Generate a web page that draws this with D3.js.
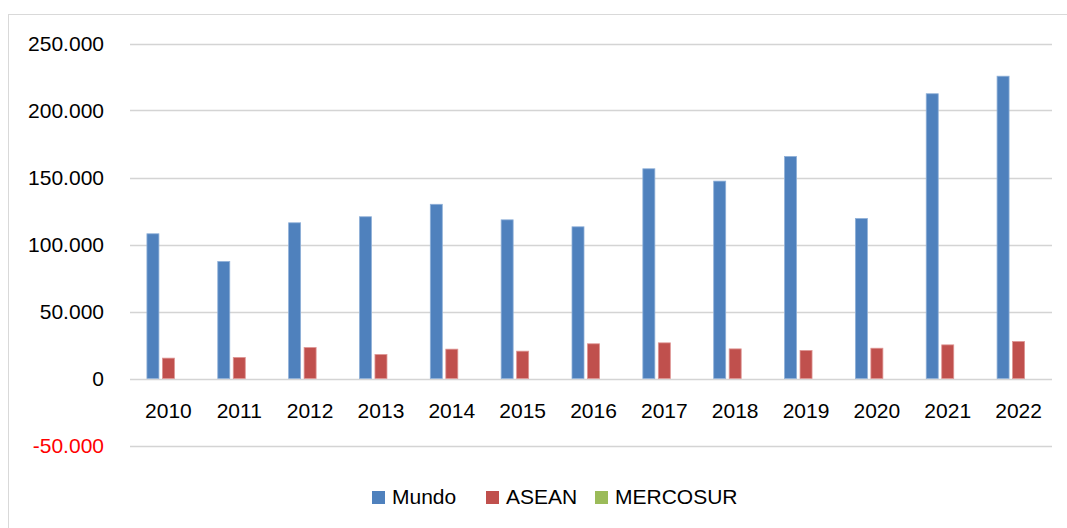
<!DOCTYPE html>
<html>
<head>
<meta charset="utf-8">
<script src="https://cdn.jsdelivr.net/npm/d3@7"></script>
<style>
  html, body { margin: 0; padding: 0; background: #fff; }
  svg { display: block; }
  text { font-family: "Liberation Sans", Arial, sans-serif; }
</style>
</head>
<body>
<svg id="chart" width="1067" height="528"></svg>
<script>
const years = ["2010","2011","2012","2013","2014","2015","2016","2017","2018","2019","2020","2021","2022"];
const seriesNames = ["Mundo","ASEAN","MERCOSUR"];
const mundo = [108000, 87300, 116200, 120700, 130000, 118400, 113200, 156500, 147300, 165700, 119400, 212500, 225600];
const asean = [15200, 15700, 23100, 17900, 21900, 20400, 25900, 26600, 22100, 20900, 22600, 25100, 27600];
const mercosur = [0, 0, 0, 0, 0, 0, 0, 0, 0, 0, 0, 0, 0];
const yTicks = [-50000, 0, 50000, 100000, 150000, 200000, 250000];
const colors = ["#4F81BD", "#C0504D", "#9BBB59"];
const strokes = ["#8FB0D8", "#DE9593", "#C3D79B"];

const values = [mundo, asean, mercosur];
const svg = d3.select("#chart");

// chart border
svg.append("rect").attr("x", 8.5).attr("y", 14.5).attr("width", 1080).attr("height", 540)
  .attr("fill", "#fff").attr("stroke", "#D9D9D9").attr("stroke-width", 1);

const x = d3.scaleBand().domain(years).range([133, 1054]).paddingInner(0).paddingOuter(0);
const xs = d3.scaleBand().domain(seriesNames).range([-23.25, 23.25]).paddingInner(0.2258).paddingOuter(0.1129);
const y = d3.scaleLinear().domain([-50000, 250000]).range([445.5, 43.5]);

const loc = d3.formatLocale({decimal: ",", thousands: ".", grouping: [3], currency: ["", ""], minus: "-"});
const fmt = loc.format(",d");

// gridlines
svg.append("g").selectAll("line").data(yTicks).join("line")
  .attr("x1", 130).attr("x2", 1052)
  .attr("y1", d => Math.round(y(d)) + 0.5).attr("y2", d => Math.round(y(d)) + 0.5)
  .attr("stroke", "#D4D4D4").attr("stroke-width", 1.6);

// y labels
svg.append("g").selectAll("text").data(yTicks).join("text")
  .attr("x", 104).attr("y", d => y(d))
  .attr("dy", "0.36em")
  .attr("text-anchor", "end")
  .attr("font-size", 21)
  .attr("fill", d => d < 0 ? "#FF0000" : "#000")
  .text(d => fmt(d));

// bars
seriesNames.forEach((s, i) => {
  svg.append("g").selectAll("rect").data(years.map((yr, j) => ({yr, v: values[i][j]})))
    .join("rect")
    .attr("x", d => x(d.yr) + x.bandwidth() / 2 + xs(s))
    .attr("width", xs.bandwidth())
    .attr("y", d => Math.min(y(d.v), y(0)))
    .attr("height", d => Math.abs(y(0) - y(d.v)))
    .attr("fill", colors[i])
    .attr("stroke", d => d.v === 0 ? "none" : strokes[i])
    .attr("stroke-width", 0.8);
});

// x labels
svg.append("g").selectAll("text").data(years).join("text")
  .attr("x", d => x(d) + x.bandwidth() / 2)
  .attr("y", 418)
  .attr("text-anchor", "middle")
  .attr("font-size", 21)
  .attr("fill", "#000")
  .text(d => d);

// legend
const legendX = [372, 486, 595];
const lg = svg.append("g");
seriesNames.forEach((s, i) => {
  lg.append("rect").attr("x", legendX[i]).attr("y", 491).attr("width", 13).attr("height", 13).attr("fill", colors[i]);
  lg.append("text").attr("x", legendX[i] + 20).attr("y", 504).attr("font-size", 21).attr("fill", "#000").text(s);
});
</script>
</body>
</html>
